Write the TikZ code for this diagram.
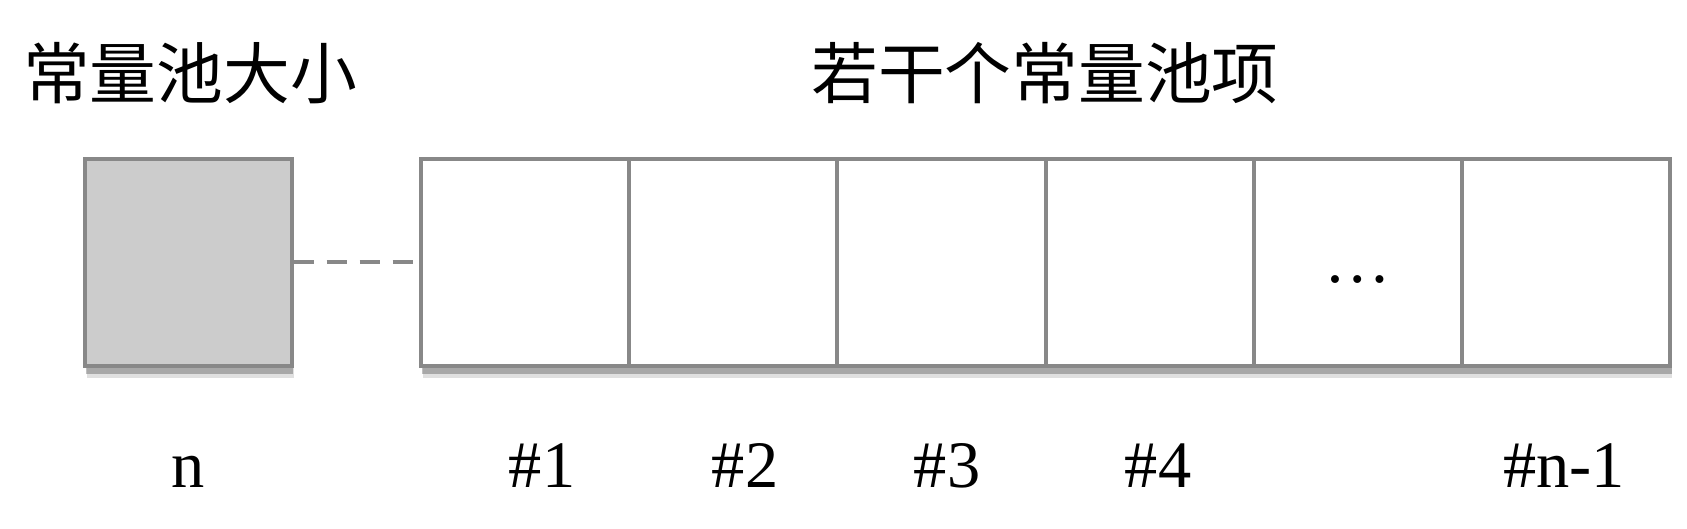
\documentclass[tikz,border=0pt]{standalone}
\usepackage{fontspec}
\setmainfont{Liberation Serif}
\newfontfamily\cjk{Noto Sans CJK SC}
\usetikzlibrary{shadows}
\definecolor{boxgray}{HTML}{888888}
\definecolor{sizefill}{HTML}{CCCCCC}
\tikzset{
  slot/.style={draw=boxgray, line width=0.04cm, fill=white, minimum width=2.082cm, minimum height=2.07cm, inner sep=0pt,
    drop shadow={shadow xshift=0.6pt, shadow yshift=-3.4pt, opacity=0.12, fill=black},
    drop shadow={shadow xshift=0.4pt, shadow yshift=-2.2pt, opacity=0.25, fill=black}},
  title/.style={anchor=base, inner sep=0pt, font=\cjk\fontsize{19}{22}\selectfont},
  idx/.style={anchor=base, inner sep=0pt, font=\fontsize{18.9}{22}\selectfont}
}
\begin{document}
\begin{tikzpicture}
\useasboundingbox (0,0) rectangle (16.87,5.29);
\node[slot, fill=sizefill, minimum width=2.07cm] (size) at (1.88,2.665) {};
\node[slot] (c1) at (5.251,2.665) {};
\node[slot] (c2) at (7.333,2.665) {};
\node[slot] (c3) at (9.415,2.665) {};
\node[slot] (c4) at (11.497,2.665) {};
\node[slot] (c5) at (13.579,2.665) {};
\node[slot] (c6) at (15.661,2.665) {};
\draw[boxgray, line width=0.04cm, dash pattern=on 0.2cm off 0.13cm] (size.east) -- (c1.west);
\node[idx] (dots) at (13.58,2.46) {…};
\node[title] (sizetitle) at (1.90,4.30) {常量池大小};
\node[title] (itemtitle) at (10.45,4.30) {若干个常量池项};
\node[idx] (n) at (1.88,0.41) {n};
\node[idx] (i1) at (5.42,0.41) {\#1};
\node[idx] (i2) at (7.45,0.41) {\#2};
\node[idx] (i3) at (9.47,0.41) {\#3};
\node[idx] (i4) at (11.58,0.41) {\#4};
\node[idx] (ilast) at (15.64,0.41) {\#n-1};
\end{tikzpicture}
\end{document}
